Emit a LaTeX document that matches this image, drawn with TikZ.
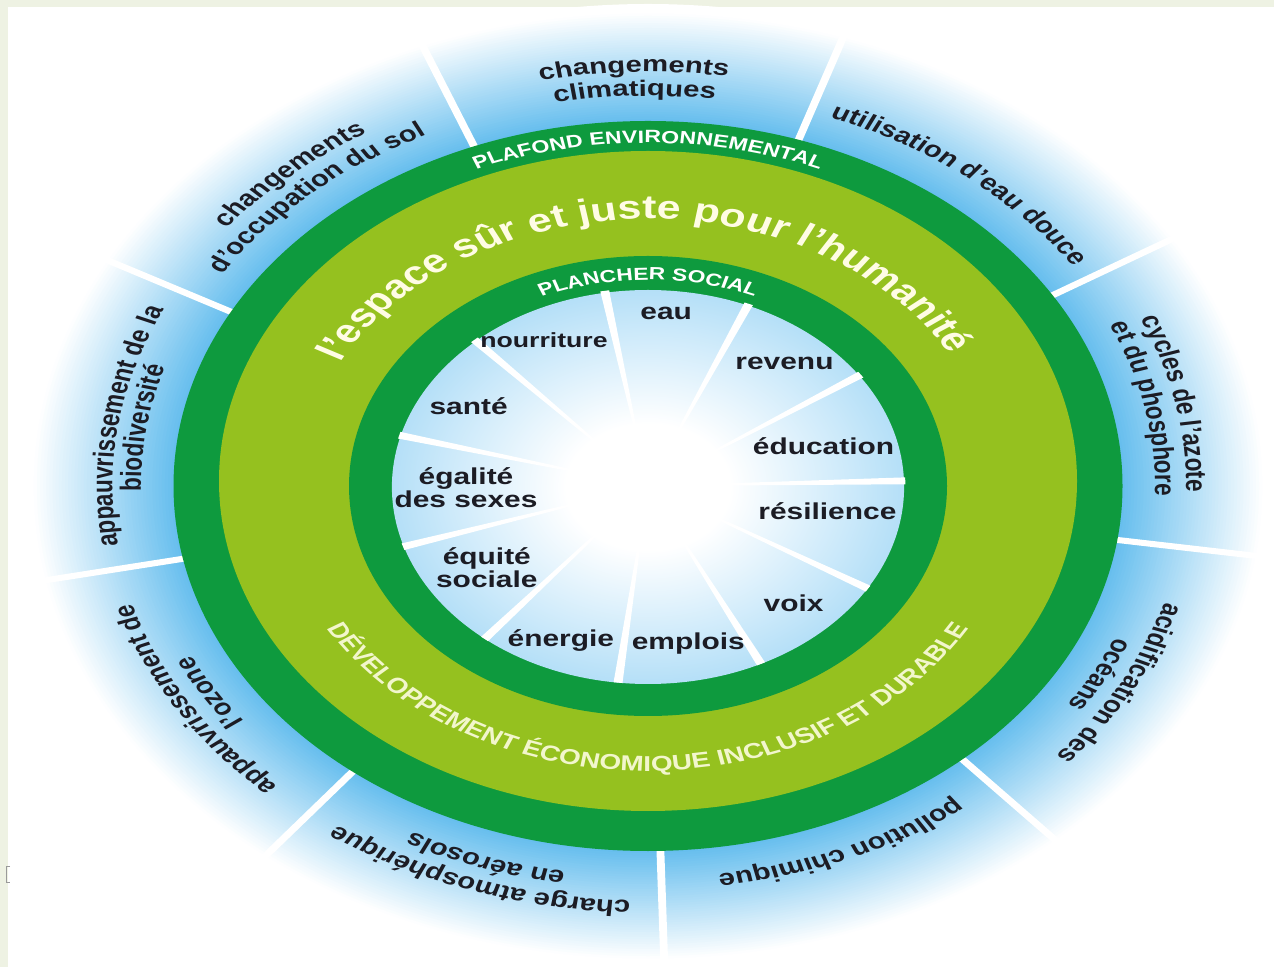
\documentclass[tikz,border=0pt]{standalone}
\usepackage{fontspec}
\setmainfont{Liberation Sans}
\usetikzlibrary{decorations.text}
\definecolor{framec}{HTML}{EEF2E3}
\definecolor{markc}{HTML}{9A9A9A}
\definecolor{dkgreen}{HTML}{0E9A3E}
\definecolor{ltgreen}{HTML}{95C11F}
\definecolor{sky1}{HTML}{66BEEE}
\definecolor{inb1}{HTML}{86CBF2}
\definecolor{inb2}{HTML}{CBE9FA}
\definecolor{cream}{HTML}{FFFCE4}
\definecolor{paley}{HTML}{F2F6CC}
\definecolor{ink}{HTML}{1C1C24}
% radial shading: 50bp maps to the half-diagonal of the bounding box, so radius R <-> 35.36bp
\pgfdeclareradialshading{innerglow}{\pgfpoint{0bp}{0bp}}{color(0bp)=(white); color(8bp)=(white); color(20bp)=(inb2); color(35.4bp)=(inb1); color(50bp)=(inb1)}
\newcommand\arclbl[3]{%
  \path[decorate,decoration={text along path,text align=center,text color=ink,
    text={|\bfseries\fontsize{22.5}{22.5}\selectfont|#3}}]
    ({#1+50}:#2) arc[start angle={#1+50},end angle={#1-50},radius=#2];}
\tikzset{
  inlab/.style={font=\bfseries\fontsize{23}{23}\selectfont, text=ink, anchor=base, inner sep=0pt},
  inlabtwo/.style={inlab, anchor=center, align=center},
  ospoke/.style={white, line width=6pt},
  ispoke/.style={white},
}
\begin{document}
\begin{tikzpicture}[x=1pt,y=1pt]
\useasboundingbox (0,0) rectangle (1274,967);
\fill[framec] (0,0) rectangle (1274,967);
\fill[white] (8,0) rectangle (1274,960);
\draw[markc, line width=1pt] (10,101) -- (6,101) -- (6,85) -- (10,85);
\begin{scope}
\pgflowlevel{\pgftransformcm{1.3}{0}{0}{1}{\pgfpoint{648pt}{481pt}}}
% outer blue glow, built from concentric discs
\foreach \i in {0,...,48} {%
  \pgfmathsetmacro\r{482-2.4*\i}%
  \pgfmathsetmacro\p{max(0,min(100,100*(474-\r)/108))}%
  \fill[sky1!\p!white] (0,0) circle[radius=\r];}
\foreach \k in {0,...,8} {\pgfmathsetmacro\a{111.5-40*\k}\draw[ospoke] (\a:360) -- (\a:480);}
% outer labels
\arclbl{91.5}{414}{changements}
\arclbl{91.5}{390}{climatiques}
\arclbl{51.5}{394}{utilisation d'eau douce}
\arclbl{11.5}{414}{cycles de l'azote}
\arclbl{11.5}{390}{et du phosphore}
\arclbl{-28.5}{414}{acidification des}
\arclbl{-28.5}{390}{océans}
\arclbl{-67.5}{392}{pollution chimique}
\arclbl{-108.5}{415}{charge atmosphérique}
\arclbl{-108.5}{391}{en aérosols}
\arclbl{-148.5}{414}{appauvrissement de}
\arclbl{-148.5}{390}{l'ozone}
\arclbl{171.5}{412}{appauvrissement de la}
\arclbl{171.5}{390}{biodiversité}
\arclbl{131.5}{414}{changements}
\arclbl{131.5}{390}{d'occupation du sol}
% rings
\fill[dkgreen] (0,0) circle[radius=365];
\fill[ltgreen] (0,5) circle[radius=330];
\fill[dkgreen] (0,0) circle[radius=230];
\shade[shading=innerglow] (0,-1) circle[radius=197];
\foreach \k in {0,...,10} {\pgfmathsetmacro\a{1.5+32.727*\k}\fill[ispoke] (0,0) -- (\a-1:198) -- (\a+1:198) -- cycle;}
% inner labels
\node[inlab] (eau) at (14,166) {eau};
\node[inlab, font=\bfseries\fontsize{20.5}{20.5}\selectfont] (nourriture) at (-80,138) {nourriture};
\node[inlab] (revenu) at (105,116) {revenu};
\node[inlab] (sante) at (-138,71) {santé};
\node[inlab] (education) at (135,31) {éducation};
\node[inlabtwo] (egalite) at (-140,-2) {égalité\\des sexes};
\node[inlab] (resilience) at (138,-34) {résilience};
\node[inlabtwo] (equite) at (-124,-81.5) {équité\\sociale};
\node[inlab] (voix) at (112,-126) {voix};
\node[inlab] (energie) at (-67,-161) {énergie};
\node[inlab] (emplois) at (31,-164) {emplois};
% ring texts
\path[decorate,decoration={text along path,text align=center,text color=white,
  text={|\bfseries\fontsize{17.8}{17.8}\selectfont|PLAFOND ENVIRONNEMENTAL}}]
  (150:343) arc[start angle=150,end angle=30,radius=343];
\path[decorate,decoration={text along path,text align=center,text color=white,
  text={|\bfseries\fontsize{17.5}{17.5}\selectfont|PLANCHER SOCIAL}}]
  (150:206) arc[start angle=150,end angle=30,radius=206];
\path[decorate,decoration={text along path,text align=center,text color=cream,
  text={|\bfseries\fontsize{33}{33}\selectfont|l'espace sûr et juste pour l'humanité}}]
  (176:267) arc[start angle=176,end angle=6,radius=267];
\path[decorate,decoration={text along path,text align=center,text color=paley,
  text={|\bfseries\fontsize{21.5}{21.5}\selectfont|DÉVELOPPEMENT ÉCONOMIQUE INCLUSIF ET DURABLE}}]
  (-175:285) arc[start angle=-175,end angle=-5,radius=285];
\end{scope}
\end{tikzpicture}
\end{document}
